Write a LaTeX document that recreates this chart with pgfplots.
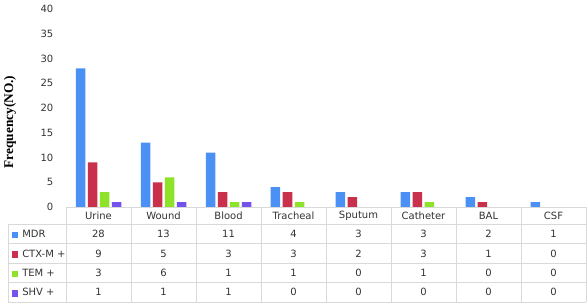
\documentclass[border=0pt]{standalone}
\usepackage{pgfplots}
\pgfplotsset{compat=1.18}
\usepackage{pgfplotstable}
\usepackage{fontspec}
\setmainfont{DejaVu Sans}
\newfontfamily\labfont{Liberation Serif}
\definecolor{cMDR}{HTML}{4A90F5}
\definecolor{cCTX}{HTML}{C9304B}
\definecolor{cTEM}{HTML}{8FE22A}
\definecolor{cSHV}{HTML}{7452EE}
\definecolor{tabgrid}{HTML}{D9D9D9}
\definecolor{tabtext}{HTML}{333333}

\pgfplotstableread{
idx MDR CTX TEM SHV
0 28 9 3 1
1 13 5 6 1
2 11 3 1 1
3 4 3 1 0
4 3 2 0 0
5 3 3 1 0
6 2 1 0 0
7 1 0 0 0
}\data

\begin{document}
\begin{tikzpicture}[tabfont/.style={font=\fontsize{7.5}{9}\selectfont, text=tabtext, inner sep=0pt}]
\path[use as bounding box] (0,0) rectangle (441pt,230.25pt);
\begin{axis}[at={(49.5pt,75pt)}, anchor=south west, scale only axis,
  width=390pt, height=148.5pt,
  xmin=-0.5, xmax=7.5, ymin=0, ymax=40, ytick={0,5,...,40}, xtick=\empty,
  axis line style={draw=none}, major tick length=0pt,
  ybar=1.875pt, bar width=7.125pt,
  tick label style={font=\fontsize{7.5}{9}\selectfont, text=tabtext},
  /pgf/number format/assume math mode=true,
  yticklabel style={xshift=-6pt},
  clip=false]
\addplot[draw=none, fill=cMDR] table[x=idx,y=MDR]{\data};
\addplot[draw=none, fill=cCTX] table[x=idx,y=CTX]{\data};
\addplot[draw=none, fill=cTEM] table[x=idx,y=TEM]{\data};
\addplot[draw=none, fill=cSHV] table[x=idx,y=SHV]{\data};
\end{axis}
% data table grid
\begin{scope}[tabgrid, line width=0.75pt]
\draw (49.5pt,75pt) -- (439.5pt,75pt);
\foreach \yy in {61.875,47.34,32.81,18.28,3.75}{\draw (6pt,{\yy*1pt}) -- (439.5pt,{\yy*1pt});}
\foreach \k in {0,...,8}{\draw ({(49.5+48.75*\k)*1pt},3.75pt) -- ({(49.5+48.75*\k)*1pt},75pt);}
\draw (6pt,3.75pt) -- (6pt,61.875pt);
\end{scope}
% header
\foreach \i/\n in {0/Urine,1/Wound,2/Blood,3/Tracheal,4/Sputum,5/Catheter,6/BAL,7/CSF}{
  \node[tabfont] at ({(73.875+48.75*\i)*1pt},68.44pt) {\n};
}
% row labels
\foreach \c/\lab/\yy in {cMDR/MDR/54.6, cCTX/CTX-M +/40.08, cTEM/TEM +/25.55, cSHV/SHV +/11.0}{
  \fill[\c] (8.8pt,{(\yy-3.2)*1pt}) rectangle (13.7pt,{(\yy+1.7)*1pt});
  \node[tabfont, anchor=west] at (16.5pt,{\yy*1pt}) {\lab};
}
% values
\foreach \i in {0,...,7}{
  \foreach \col/\yy in {MDR/54.6, CTX/40.08, TEM/25.55, SHV/11.0}{
    \pgfplotstablegetelem{\i}{\col}\of\data
    \node[tabfont] at ({(73.875+48.75*\i)*1pt},{\yy*1pt}) {\pgfplotsretval};
  }
}
\node[rotate=90, font=\labfont\bfseries\fontsize{10}{12}\selectfont] at (7.5pt,138.75pt) {Frequency(NO.)};
\end{tikzpicture}
\end{document}
